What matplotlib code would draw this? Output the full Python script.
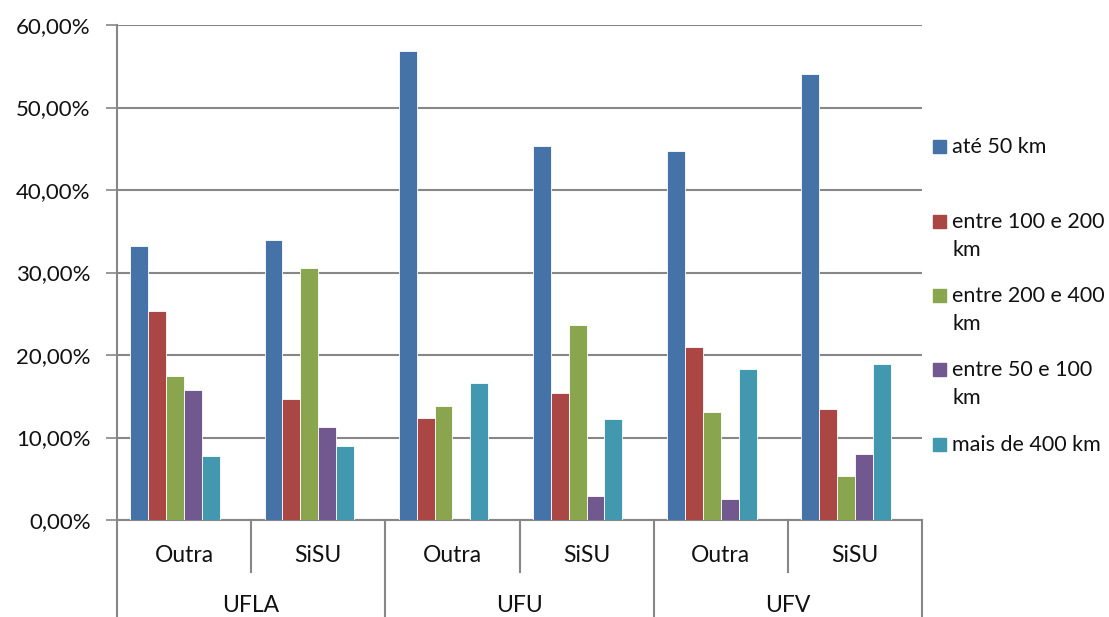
import matplotlib
matplotlib.use("Agg")
import matplotlib.pyplot as plt
import numpy as np
from matplotlib.patches import Rectangle

plt.rcParams['font.family'] = ['Lato', 'DejaVu Sans']

groups = ["UFLA", "UFU", "UFV"]
subcats = ["Outra", "SiSU", "Outra", "SiSU", "Outra", "SiSU"]
series_names = ["até 50 km", "entre 100 e 200\nkm", "entre 200 e 400\nkm",
                "entre 50 e 100\nkm", "mais de 400 km"]
ate50 = [33.2, 34.0, 56.9, 45.3, 44.7, 54.1]
e100_200 = [25.3, 14.65, 12.4, 15.4, 21.0, 13.4]
e200_400 = [17.4, 30.6, 13.8, 23.6, 13.1, 5.35]
e50_100 = [15.8, 11.25, 0.0, 2.95, 2.5, 8.0]
mais400 = [7.8, 9.0, 16.6, 12.3, 18.35, 18.9]
yticks = [0, 10, 20, 30, 40, 50, 60]
ytick_labels = ["0,00%", "10,00%", "20,00%", "30,00%", "40,00%", "50,00%", "60,00%"]

series = [ate50, e100_200, e200_400, e50_100, mais400]
colors = ["#4572A7", "#AA4643", "#89A54E", "#71588F", "#4198AF"]

W, H = 1109, 617
fig = plt.figure(figsize=(W / 100, H / 100), dpi=100)
ax = fig.add_axes([117 / W, (617 - 520) / H, (922 - 117) / W, (520 - 25) / H])

n_slots = 6
w = 1 / 7.5
x = np.arange(len(subcats))
for i, (vals, c) in enumerate(zip(series, colors)):
    off = -n_slots * w / 2 + (i + 0.5) * w
    ax.bar(x + off, vals, width=w, color=c, edgecolor="white", linewidth=0.6, zorder=3)

ax.set_xlim(-0.5, 5.5)
ax.set_ylim(0, 60)
ax.set_yticks(yticks)
ax.set_yticklabels(ytick_labels, fontsize=16, color="#111111")
ax.yaxis.grid(True, color="#878787", linewidth=1.5, zorder=0)
ax.set_axisbelow(True)
ax.tick_params(axis="y", direction="out", length=8, width=1.2, color="#878787", pad=11)
ax.set_xticks([])
for s in ["top", "right"]:
    ax.spines[s].set_visible(False)
ax.spines["left"].set_color("#878787")
ax.spines["left"].set_linewidth(1.5)
ax.spines["bottom"].set_color("#878787")
ax.spines["bottom"].set_linewidth(1.5)

tr = ax.get_xaxis_transform()
y_sub = -(572 - 520) / 495
y_bot = -(617 - 520) / 495 - 0.01
for b in [0.5, 2.5, 4.5]:
    ax.plot([b, b], [0, y_sub], transform=tr, color="#878787", lw=1.5, clip_on=False)
for b in [-0.5, 1.5, 3.5, 5.5]:
    ax.plot([b, b], [0, y_bot], transform=tr, color="#878787", lw=1.5, clip_on=False)

for xi, lab in zip(x, subcats):
    ax.text(xi, -(555 - 520) / 495, lab, transform=tr, ha="center", va="center",
            fontsize=16.5, color="#111111")
for gi, g in enumerate(groups):
    ax.text(2 * gi + 0.5, -(605 - 520) / 495, g, transform=tr, ha="center", va="center",
            fontsize=16.5, color="#111111")

# legend
leg_y = [147, 222, 296, 370, 445]
for yy, name, c in zip(leg_y, series_names, colors):
    fig.patches.append(Rectangle((933 / W, 1 - (yy + 6) / H), 13 / W, 13 / H,
                                 transform=fig.transFigure, color=c))
    lines = name.split("\n")
    for k, ln in enumerate(lines):
        fig.text(952 / W, 1 - (yy + k * 28) / H, ln, ha="left", va="center",
                 fontsize=15.5, color="#111111")

fig.savefig("out.png", dpi=100)
